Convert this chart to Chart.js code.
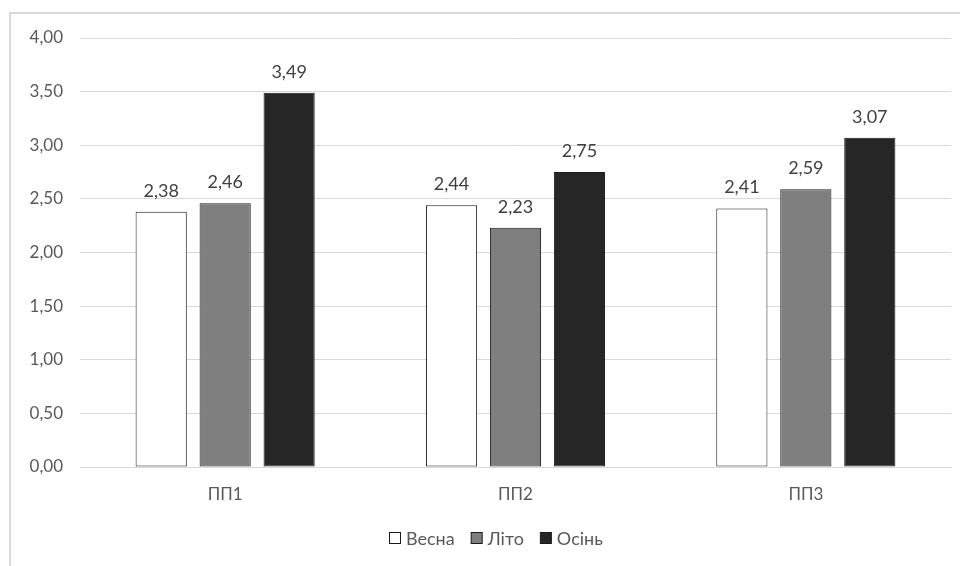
<!DOCTYPE html>
<html>
<head>
<meta charset="utf-8">
<script src="https://cdn.jsdelivr.net/npm/chart.js@4.4.1/dist/chart.umd.min.js"></script>
<style>
  html, body { margin: 0; padding: 0; background: #ffffff; }
  #wrap { width: 960px; height: 566px; position: relative; }
</style>
</head>
<body>
<div id="wrap"><canvas id="c" width="960" height="566"></canvas></div>
<script>
// Sample plots and seasonal values
const categories = ['ПП1', 'ПП2', 'ПП3'];
const seriesNames = ['Весна', 'Літо', 'Осінь'];
const spring = [2.38, 2.44, 2.41];
const summer = [2.46, 2.23, 2.59];
const autumn = [3.49, 2.75, 3.07];
const yTicks = [0, 0.5, 1, 1.5, 2, 2.5, 3, 3.5, 4];

const FONT = 'Lato, "Open Sans", sans-serif';
const TEXT_GREY = '#595959';
const EDGE = '#1a1a1a';
const fmt = v => v.toFixed(2).replace('.', ',');

// Outer frame of the chart box
const framePlugin = {
  id: 'frame',
  beforeDraw(chart) {
    const ctx = chart.ctx;
    ctx.save();
    ctx.fillStyle = '#ffffff';
    ctx.fillRect(0, 0, chart.width, chart.height);
    ctx.strokeStyle = '#d9d9d9';
    ctx.lineWidth = 2;
    ctx.strokeRect(10, 13, 980, 600);
    ctx.restore();
  }
};

// Value labels above every bar
const valueLabels = {
  id: 'valueLabels',
  afterDatasetsDraw(chart) {
    const ctx = chart.ctx;
    ctx.save();
    ctx.font = '18px ' + FONT;
    ctx.fillStyle = '#404040';
    ctx.textAlign = 'center';
    ctx.textBaseline = 'middle';
    chart.data.datasets.forEach((ds, i) => {
      chart.getDatasetMeta(i).data.forEach((bar, j) => {
        ctx.fillText(fmt(ds.data[j]), bar.x, bar.y - 21);
      });
    });
    ctx.restore();
  }
};

// Legend row under the category labels
const legendRow = {
  id: 'legendRow',
  afterDraw(chart) {
    const ctx = chart.ctx;
    ctx.save();
    ctx.font = '18px ' + FONT;
    ctx.textBaseline = 'middle';
    ctx.textAlign = 'left';
    const box = 12, gapText = 5, gapItem = 16;
    const items = chart.data.datasets.map(ds => ({
      text: ds.label, color: ds.backgroundColor, w: ctx.measureText(ds.label).width
    }));
    const total = items.reduce((s, it) => s + box + gapText + it.w, 0) + gapItem * (items.length - 1);
    const cy = 538;
    let x = Math.round(496 - total / 2);
    items.forEach(it => {
      ctx.fillStyle = it.color;
      ctx.fillRect(x + 0.5, cy - box / 2 + 0.5, box - 1, box - 1);
      ctx.strokeStyle = EDGE;
      ctx.lineWidth = 1;
      ctx.strokeRect(x + 0.5, cy - box / 2 + 0.5, box - 1, box - 1);
      ctx.fillStyle = TEXT_GREY;
      ctx.fillText(it.text, x + box + gapText, cy + 1);
      x += box + gapText + it.w + gapItem;
    });
    ctx.restore();
  }
};

const mk = (label, data, color) => ({
  label, data,
  backgroundColor: color,
  borderColor: EDGE,
  borderWidth: 1,
  borderSkipped: false,
  categoryPercentage: 0.661,
  barPercentage: 0.8
});

new Chart(document.getElementById('c'), {
  type: 'bar',
  data: {
    labels: categories,
    datasets: [
      mk(seriesNames[0], spring, '#ffffff'),
      mk(seriesNames[1], summer, '#7f7f7f'),
      mk(seriesNames[2], autumn, '#262626')
    ]
  },
  options: {
    responsive: false,
    animation: false,
    devicePixelRatio: 1,
    layout: { padding: { top: 38, right: 9, left: 0, bottom: 47 } },
    plugins: {
      tooltip: { enabled: false },
      legend: { display: false }
    },
    scales: {
      x: {
        grid: { display: false },
        border: { display: true, color: '#d9d9d9', width: 1 },
        ticks: { font: { family: FONT, size: 17 }, color: TEXT_GREY, padding: 9 },
        afterFit(s) { s.height = 52; }
      },
      y: {
        min: 0, max: 4,
        afterBuildTicks(s) { s.ticks = yTicks.map(v => ({ value: v })); },
        grid: { color: '#d9d9d9', drawTicks: false },
        border: { display: false },
        ticks: {
          font: { family: FONT, size: 17 },
          color: TEXT_GREY,
          padding: 17,
          callback: v => fmt(v)
        },
        afterFit(s) { s.width = 80; }
      }
    }
  },
  plugins: [framePlugin, valueLabels, legendRow]
});
</script>
</body>
</html>
